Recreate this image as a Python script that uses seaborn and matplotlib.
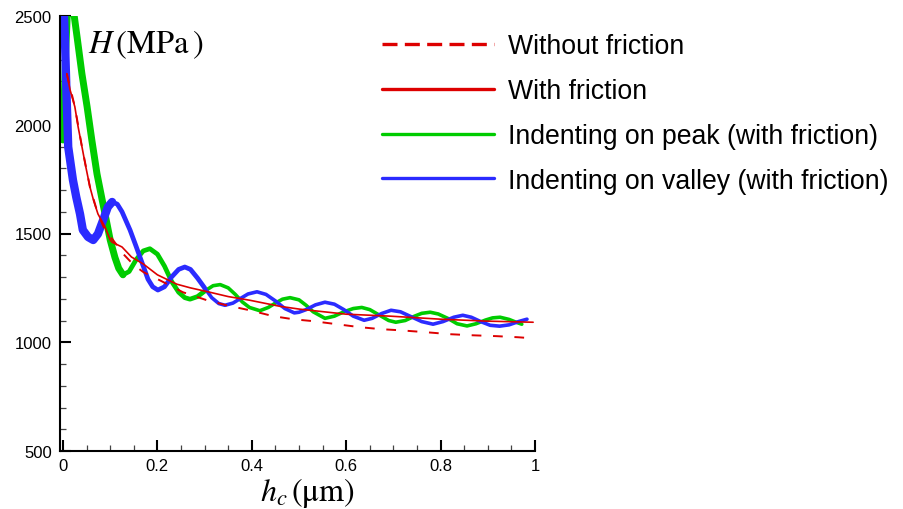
import numpy as np
import pandas as pd
import matplotlib
matplotlib.use("Agg")
import matplotlib.pyplot as plt
from matplotlib.lines import Line2D
from matplotlib.ticker import MultipleLocator
import seaborn as sns

# ---------------- data ----------------
series_labels = ["Without friction", "With friction",
                 "Indenting on peak (with friction)",
                 "Indenting on valley (with friction)"]

without_x = [0.008, 0.025, 0.040, 0.057, 0.074, 0.090, 0.106, 0.128, 0.150, 0.170,
             0.205, 0.254, 0.305, 0.350, 0.396, 0.445, 0.487, 0.530, 0.580, 0.630,
             0.675, 0.714, 0.770, 0.820, 0.868, 0.919, 0.964, 0.996]
without_y = [2235, 2083, 1900, 1714, 1590, 1510, 1470, 1405, 1355, 1323,
             1285, 1230, 1193, 1168, 1147, 1120, 1106, 1097, 1083, 1069,
             1060, 1055, 1046, 1037, 1032, 1028, 1023, 1018]

with_x = [0.008, 0.015, 0.025, 0.032, 0.040, 0.047, 0.057, 0.065, 0.074, 0.089,
          0.100, 0.104, 0.125, 0.145, 0.170, 0.200, 0.241, 0.270, 0.311, 0.350,
          0.396, 0.460, 0.502, 0.600, 0.693, 0.800, 0.900, 0.996]
with_y = [2235, 2160, 2083, 1990, 1900, 1820, 1714, 1650, 1590, 1530,
          1470, 1460, 1438, 1392, 1360, 1310, 1267, 1250, 1230, 1210,
          1193, 1165, 1152, 1129, 1120, 1106, 1097, 1092]

peak_x = [0.000, 0.005, 0.010, 0.020, 0.030, 0.040, 0.051, 0.061, 0.072, 0.083,
          0.089, 0.100, 0.110, 0.118, 0.127, 0.140, 0.155, 0.170, 0.184, 0.200,
          0.215, 0.230, 0.245, 0.258, 0.269, 0.285, 0.300, 0.318, 0.333, 0.350,
          0.365, 0.380, 0.395, 0.417, 0.435, 0.450, 0.465, 0.481, 0.500, 0.515,
          0.530, 0.555, 0.575, 0.595, 0.615, 0.633, 0.650, 0.670, 0.690, 0.705,
          0.725, 0.745, 0.760, 0.778, 0.795, 0.815, 0.835, 0.856, 0.875, 0.895,
          0.910, 0.926, 0.945, 0.960, 0.972]
peak_y = [1930, 2300, 2560, 2560, 2400, 2235, 2083, 1930, 1774, 1654,
          1590, 1470, 1390, 1340, 1310, 1325, 1380, 1420, 1430, 1405,
          1350, 1280, 1230, 1205, 1198, 1210, 1235, 1260, 1265, 1250,
          1220, 1185, 1160, 1145, 1160, 1180, 1198, 1205, 1195, 1170,
          1140, 1110, 1120, 1140, 1155, 1160, 1150, 1125, 1100, 1092,
          1100, 1120, 1133, 1138, 1130, 1110, 1085, 1075, 1085, 1102,
          1112, 1115, 1105, 1092, 1083]

valley_x = [0.000, 0.004, 0.008, 0.011, 0.021, 0.028, 0.036, 0.042, 0.053, 0.064,
            0.074, 0.085, 0.095, 0.104, 0.115, 0.125, 0.142, 0.155, 0.165,
            0.180, 0.190, 0.201, 0.215, 0.230, 0.245, 0.258, 0.270, 0.285, 0.300,
            0.315, 0.330, 0.343, 0.360, 0.375, 0.392, 0.411, 0.430, 0.450, 0.470,
            0.490, 0.500, 0.515, 0.535, 0.555, 0.575, 0.595, 0.615, 0.638, 0.655,
            0.675, 0.695, 0.715, 0.735, 0.760, 0.784, 0.805, 0.828, 0.847, 0.865,
            0.885, 0.905, 0.925, 0.945, 0.965, 0.983]
valley_y = [2600, 2400, 2100, 1898, 1746, 1668, 1590, 1516, 1484, 1470,
            1498, 1562, 1622, 1645, 1635, 1600, 1516, 1440, 1380,
            1290, 1255, 1240, 1255, 1300, 1335, 1346, 1335, 1295, 1250,
            1205, 1178, 1170, 1180, 1200, 1222, 1232, 1220, 1190, 1155,
            1135, 1138, 1150, 1172, 1184, 1175, 1150, 1120, 1101, 1110,
            1132, 1147, 1140, 1120, 1095, 1083, 1095, 1115, 1124, 1115,
            1095, 1078, 1074, 1080, 1095, 1106]

x_ticks = [0, 0.2, 0.4, 0.6, 0.8, 1]
x_ticklabels = ["0", "0.2", "0.4", "0.6", "0.8", "1"]
y_ticks = [500, 1000, 1500, 2000, 2500]
y_ticklabels = ["500", "1000", "1500", "2000", "2500"]

RED = "#dd0000"
GREEN = "#00cc00"
BLUE = "#2b2bff"

# ---------------- style ----------------
sns.set_style("ticks")
plt.rcParams["font.family"] = ["Liberation Sans", "DejaVu Sans"]
plt.rcParams["mathtext.fontset"] = "stix"
plt.rcParams["text.color"] = "black"
plt.rcParams["xtick.color"] = "black"
plt.rcParams["ytick.color"] = "black"
plt.rcParams["xtick.labelcolor"] = "black"
plt.rcParams["ytick.labelcolor"] = "black"

fig = plt.figure(figsize=(9.04, 5.10), dpi=100)
ax = fig.add_axes([60 / 904, 58 / 510, 475 / 904, 435 / 510])


def noisy_line(xs, ys, color, pieces):
    """Draw a measured curve; the noisy early part is drawn with a wider pen."""
    xs = np.asarray(xs)
    ys = np.asarray(ys)
    for lo, hi, lw in pieces:
        m = (xs >= lo) & (xs <= hi)
        sns.lineplot(x=xs[m], y=ys[m], ax=ax, color=color, lw=lw, sort=False,
                     solid_capstyle="round", solid_joinstyle="round")


noisy_line(peak_x, peak_y, GREEN, [(0.0, 0.13, 5.0), (0.125, 0.31, 3.4), (0.30, 1.0, 2.6)])
noisy_line(valley_x, valley_y, BLUE, [(0.0, 0.105, 6.0), (0.10, 0.31, 3.4), (0.30, 1.0, 2.6)])
sns.lineplot(x=with_x, y=with_y, ax=ax, color=RED, lw=1.2, sort=False)
sns.lineplot(x=without_x, y=without_y, ax=ax, color=RED, lw=1.4, sort=False,
             linestyle=(0, (5, 6)))

ax.set_xlim(-0.0064, 1.0)
ax.set_ylim(500, 2500)
ax.set_xlabel("")
ax.set_ylabel("")
ax.set_xticks(x_ticks)
ax.set_xticklabels(x_ticklabels)
ax.set_yticks(y_ticks)
ax.set_yticklabels(y_ticklabels)
ax.xaxis.set_minor_locator(MultipleLocator(0.05))
ax.yaxis.set_minor_locator(MultipleLocator(100))
ax.tick_params(which="major", direction="in", length=8, width=1.5,
               labelsize=12, colors="black")
ax.tick_params(which="minor", direction="in", length=4.3, width=0.9, colors="#444444")
ax.tick_params(axis="y", which="major", pad=6)
ax.tick_params(axis="x", which="major", pad=5)
for s in ["top", "right"]:
    ax.spines[s].set_visible(False)
for s in ["left", "bottom"]:
    ax.spines[s].set_linewidth(1.5)
    ax.spines[s].set_color("black")

fig.text(88 / 904, 1 - 45 / 510, r"$H\,(\mathrm{MPa}\,)$", fontsize=23.5,
         ha="left", va="center", color="black")
fig.text(307 / 904, 1 - 493 / 510, r"$h_c\,(\mathrm{\mu m})$", fontsize=23,
         ha="center", va="center", color="black")

handles = [Line2D([0], [0], color=RED, lw=2.4, linestyle=(0, (4.5, 2.2))),
           Line2D([0], [0], color=RED, lw=2.4),
           Line2D([0], [0], color=GREEN, lw=2.4),
           Line2D([0], [0], color=BLUE, lw=2.4)]
leg = fig.legend(handles, series_labels, loc="upper left",
                 bbox_to_anchor=(382 / 904, 1 - 34 / 510), frameon=False,
                 fontsize=19.2, handlelength=4.2, handletextpad=0.52,
                 labelspacing=0.71, borderpad=0, borderaxespad=0)
for t in leg.get_texts():
    t.set_color("black")

fig.savefig("out.png", dpi=100)
